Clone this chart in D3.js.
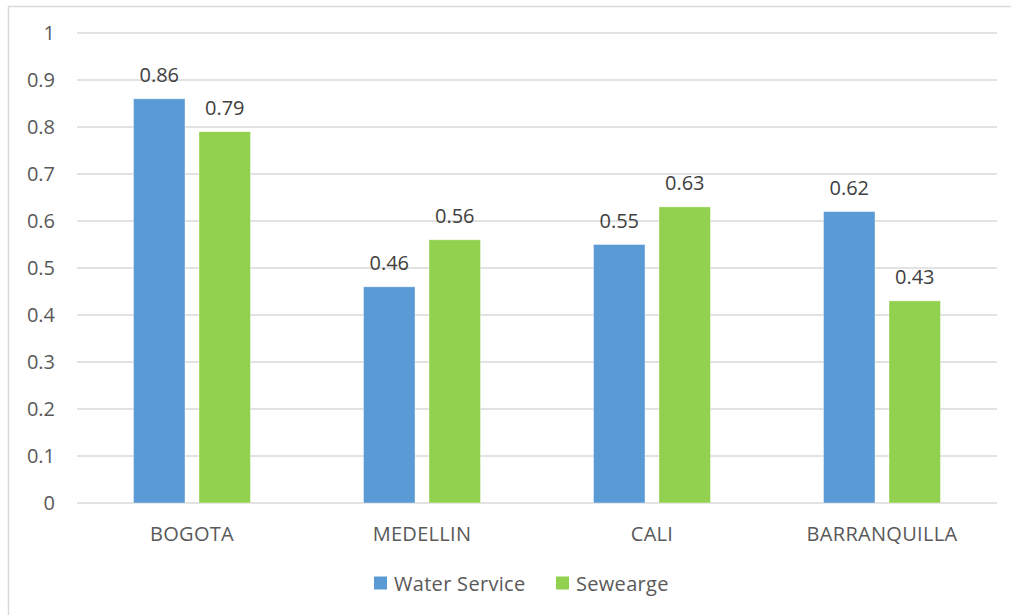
<!DOCTYPE html>
<html>
<head>
<meta charset="utf-8">
<script src="https://cdn.jsdelivr.net/npm/d3@7"></script>
<style>
  body { margin: 0; background: #fff; }
  svg { display: block; font-family: 'Open Sans', sans-serif; }
</style>
</head>
<body>
<svg id="chart"></svg>
<script>
const cities = ['BOGOTA', 'MEDELLIN', 'CALI', 'BARRANQUILLA'];
const seriesNames = ['Water Service', 'Sewearge'];
const waterService = [0.86, 0.46, 0.55, 0.62];
const sewerage = [0.79, 0.56, 0.63, 0.43];
const yTicks = [0, 0.1, 0.2, 0.3, 0.4, 0.5, 0.6, 0.7, 0.8, 0.9, 1];
const colors = ['#5b9bd5', '#92d050'];

const width = 1011;
const height = 615;
const margin = { top: 33, right: 14, bottom: 112, left: 77 };
const innerW = width - margin.left - margin.right;
const innerH = height - margin.top - margin.bottom;

const svg = d3.select('#chart').attr('width', width).attr('height', height);

// chart frame
svg.append('rect')
  .attr('x', 8.5).attr('y', 6.5)
  .attr('width', width).attr('height', height)
  .attr('fill', 'none').attr('stroke', '#d9d9d9').attr('stroke-width', 1.5);

const g = svg.append('g').attr('transform', `translate(${margin.left},${margin.top})`);

const x0 = d3.scaleBand().domain(cities).range([0, innerW]).padding(0);
const x1 = d3.scaleBand().domain(seriesNames).range([0, x0.bandwidth()])
  .paddingInner(0.214).paddingOuter(0.863);
const y = d3.scaleLinear().domain([0, 1]).range([innerH, 0]);

// gridlines
g.append('g')
  .selectAll('line')
  .data(yTicks)
  .enter()
  .append('line')
  .attr('x1', 0).attr('x2', innerW)
  .attr('y1', (d) => y(d)).attr('y2', (d) => y(d))
  .attr('stroke', '#d9d9d9').attr('stroke-width', 1.5);

// y axis labels
const yAxis = d3.axisLeft(y).tickValues(yTicks).tickFormat(d3.format('~g')).tickSize(0).tickPadding(22);
const yAxisGroup = g.append('g').call(yAxis);
yAxisGroup.select('.domain').remove();
yAxisGroup.selectAll('text').attr('fill', '#595959').style('font-size', '20px').style('font-family', "'Open Sans', sans-serif");

// x axis labels
const xAxis = d3.axisBottom(x0).tickSize(0).tickPadding(24);
const xAxisGroup = g.append('g').attr('transform', `translate(0,${innerH})`).call(xAxis);
xAxisGroup.select('.domain').remove();
xAxisGroup.selectAll('text').attr('fill', '#595959').style('font-size', '20px').style('font-family', "'Open Sans', sans-serif").style('letter-spacing', '0.3px');

const rows = cities.map((c, i) => ({ city: c, values: [waterService[i], sewerage[i]] }));

const groups = g.selectAll('.city')
  .data(rows)
  .enter()
  .append('g')
  .attr('class', 'city')
  .attr('transform', (d) => `translate(${x0(d.city)},0)`);

groups.selectAll('rect')
  .data((d) => d.values.map((v, i) => ({ name: seriesNames[i], value: v, i })))
  .enter()
  .append('rect')
  .attr('x', (d) => x1(d.name))
  .attr('y', (d) => y(d.value))
  .attr('width', x1.bandwidth())
  .attr('height', (d) => innerH - y(d.value))
  .attr('fill', (d) => colors[d.i])
  .attr('stroke', '#ffffff').attr('stroke-opacity', 0.5).attr('stroke-width', 0.75);

groups.selectAll('text.val')
  .data((d) => d.values.map((v, i) => ({ name: seriesNames[i], value: v })))
  .enter()
  .append('text')
  .attr('class', 'val')
  .attr('x', (d) => x1(d.name) + x1.bandwidth() / 2)
  .attr('y', (d) => y(d.value) - 17)
  .attr('text-anchor', 'middle')
  .attr('fill', '#404040')
  .style('font-size', '20px')
  .text((d) => d.value);

// legend
const legend = svg.append('g').attr('transform', 'translate(374,583)');
const legendX = [0, 182];
seriesNames.forEach((name, i) => {
  const item = legend.append('g').attr('transform', `translate(${legendX[i]},0)`);
  item.append('rect').attr('x', 0).attr('y', -6.5).attr('width', 13).attr('height', 13).attr('fill', colors[i]);
  item.append('text').attr('x', 20).attr('y', 8)
    .attr('fill', '#595959').style('font-size', '20px').style('letter-spacing', '0.3px').text(name);
});
</script>
</body>
</html>
